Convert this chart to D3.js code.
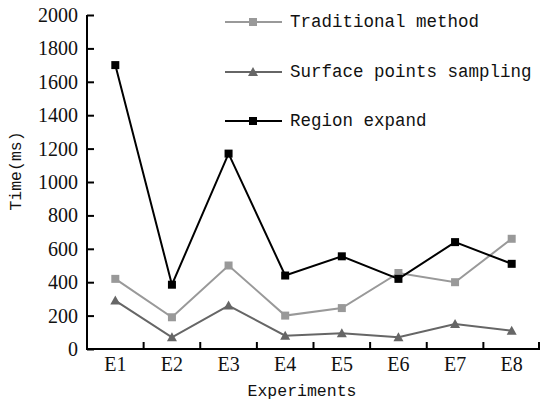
<!DOCTYPE html>
<html>
<head>
<meta charset="utf-8">
<script src="https://cdn.jsdelivr.net/npm/d3@7"></script>
<style>
  body { margin: 0; background: #fff; }
  svg { display: block; }
  .serif { font-family: "Liberation Serif", "DejaVu Serif", serif; }
  .mono { font-family: "Liberation Mono", "DejaVu Sans Mono", monospace; }
</style>
</head>
<body>
<svg id="chart" width="540" height="404"></svg>
<script>
// chart data
var experiments = ["E1", "E2", "E3", "E4", "E5", "E6", "E7", "E8"];
var traditional = [420, 190, 500, 200, 245, 455, 400, 660];
var surface = [290, 70, 260, 80, 95, 70, 150, 110];
var region = [1700, 385, 1170, 440, 555, 420, 640, 510];
var yTicks = [0, 200, 400, 600, 800, 1000, 1200, 1400, 1600, 1800, 2000];

var series = [
  { name: "Traditional method", values: traditional, color: "#999999", marker: "square" },
  { name: "Surface points sampling", values: surface, color: "#666666", marker: "triangle" },
  { name: "Region expand", values: region, color: "#000000", marker: "square" }
];

var svg = d3.select("#chart");
var plotLeft = 87, plotRight = 540, plotTop = 15, plotBottom = 349;

var x = d3.scaleBand().domain(experiments).range([plotLeft, plotRight]);
var y = d3.scaleLinear().domain([0, 2000]).range([plotBottom, plotTop]);

//y axis
var yAxis = svg.append("g")
  .attr("transform", "translate(" + plotLeft + ",0)")
  .call(d3.axisLeft(y).tickValues(yTicks).tickFormat(d3.format("d")).tickSize(-7).tickSizeOuter(0));
yAxis.attr("font-family", null).attr("font-size", null);
yAxis.select(".domain").attr("stroke", "#000").attr("stroke-width", 2)
  .attr("d", "M0," + (plotBottom + 1) + "V" + plotTop);
yAxis.selectAll(".tick line").attr("stroke", "#000").attr("stroke-width", 2).attr("x1", 0).attr("x2", 7);
yAxis.selectAll(".tick text")
  .attr("class", "serif").style("font-size", "20px").attr("fill", "#111").attr("x", -9);

//x axis, ticks sit between the categories
var xAxis = svg.append("g").attr("transform", "translate(0," + plotBottom + ")");
xAxis.append("line").attr("x1", plotLeft).attr("x2", plotRight).attr("stroke", "#000").attr("stroke-width", 2);
var bounds = experiments.slice(1).map(e => x(e)).concat([plotRight - 1]);
xAxis.selectAll(".xt").data(bounds).enter().append("line")
  .attr("x1", d => d).attr("x2", d => d).attr("y1", 0).attr("y2", -7)
  .attr("stroke", "#000").attr("stroke-width", 2);
xAxis.selectAll(".xl").data(experiments).enter().append("text")
  .attr("class", "serif")
  .attr("x", d => x(d) + x.bandwidth() / 2).attr("y", 22)
  .attr("text-anchor", "middle")
  .style("font-size", "20px").attr("fill", "#111")
  .text(d => d);

//axis titles
svg.append("text").attr("class", "mono").attr("x", 302).attr("y", 396).attr("text-anchor", "middle")
  .style("font-size", "16.5px").attr("fill", "#111")
  .text("Experiments");
svg.append("text").attr("class", "mono").attr("transform", "translate(21,171) rotate(-90)").attr("text-anchor", "middle")
  .style("font-size", "16.5px").attr("fill", "#111")
  .text("Time(ms)");

function cx(i) { return x(experiments[i]) + x.bandwidth() / 2; }

function drawMarker(g, marker, px, py, color) {
  if (marker == "square") {
    g.append("rect").attr("x", px - 4).attr("y", py - 4).attr("width", 8).attr("height", 8).attr("fill", color);
  } else {
    g.append("path").attr("d", "M" + px + "," + (py - 5) + "L" + (px + 5) + "," + (py + 4) + "L" + (px - 5) + "," + (py + 4) + "Z")
      .attr("fill", color);
  }
}

var line = d3.line().x((d, i) => cx(i)).y(d => y(d));

series.forEach(s => {
  var g = svg.append("g");
  g.append("path").datum(s.values).attr("d", line)
    .attr("fill", "none").attr("stroke", s.color).attr("stroke-width", 2);
  s.values.forEach((v, i) => drawMarker(g, s.marker, cx(i), y(v), s.color));
});

//legend
var legendY = [22, 72, 121];
series.forEach((s, i) => {
  var g = svg.append("g");
  g.append("line").attr("x1", 225).attr("x2", 282).attr("y1", legendY[i]).attr("y2", legendY[i])
    .attr("stroke", s.color).attr("stroke-width", 2);
  drawMarker(g, s.marker, 253, legendY[i], s.color);
  g.append("text").attr("class", "mono").attr("x", 290).attr("y", legendY[i] + 5)
    .style("font-size", "17.5px").attr("fill", "#111")
    .text(s.name);
});
</script>
</body>
</html>
